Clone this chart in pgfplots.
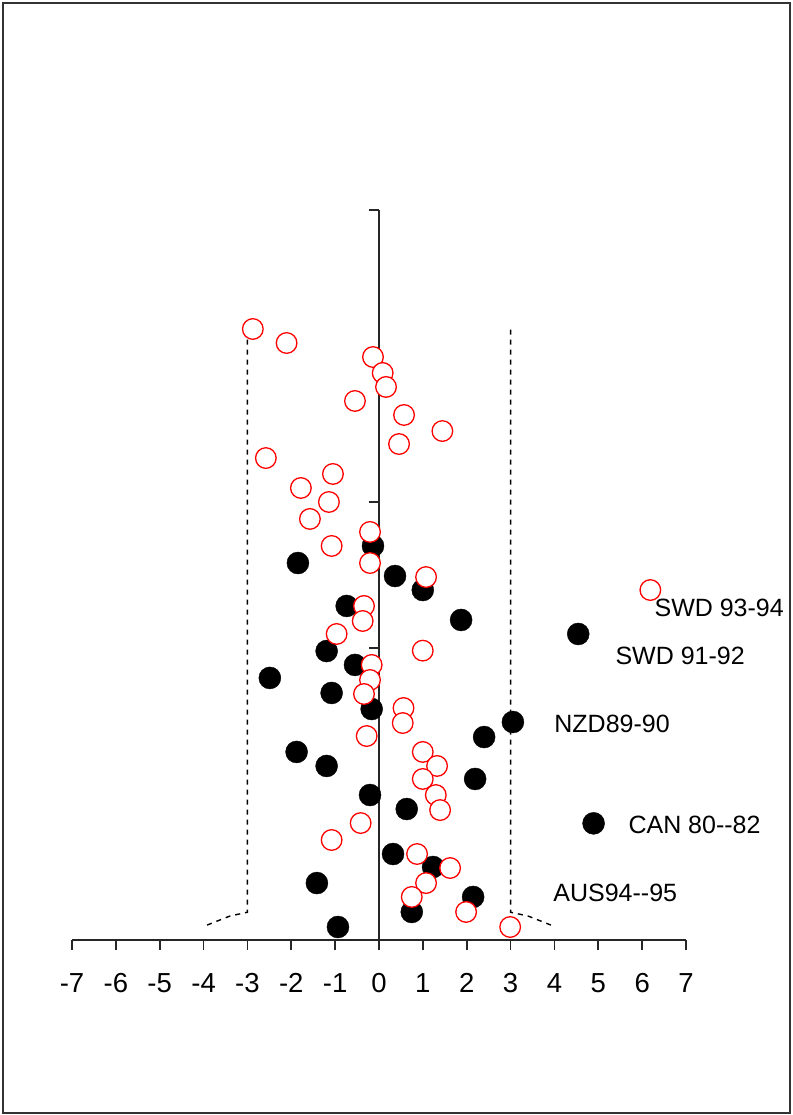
\documentclass[border=0pt]{standalone}
\usepackage{fontspec}
\setmainfont{Liberation Sans}
\usepackage{pgfplots}
\pgfplotsset{compat=1.18}
\begin{document}
\begin{tikzpicture}
\useasboundingbox (-72pt,-175pt) rectangle (720pt,940pt);
\draw[line width=2pt, black!80] (-69pt,-173pt) rectangle (718pt,937pt);
\begin{axis}[
  at={(0pt,0pt)}, anchor=south west,
  scale only axis, width=614pt, height=730pt,
  xmin=-7, xmax=7, ymin=0, ymax=5,
  enlargelimits=false, clip=false,
  axis x line*=bottom, axis y line*=center,
  axis line style={line width=1.6pt, black!85},
  xtick={-7,-6,-5,-4,-3,-2,-1,0,1,2,3,4,5,6,7},
  xticklabels={-7,-6,-5,-4,-3,-2,-1,0,1,2,3,4,5,6,7},
  ytick={1,2,3,4,5}, yticklabels={},
  xtick align=outside, ytick align=outside,
  major tick length=10pt,
  tick style={line width=1.6pt, black!85},
  xticklabel style={font=\fontsize{27.5}{30}\selectfont, yshift=-20pt},
]
% funnel limits
\addplot[black, line width=1.4pt, dash pattern=on 5pt off 5pt] coordinates {(-3,4.18) (-3,0.19) (-3.4,0.164) (-3.67,0.132) (-3.97,0.096)};
\addplot[black, line width=1.4pt, dash pattern=on 5pt off 5pt] coordinates {(3,4.18) (3,0.19) (3.4,0.164) (3.67,0.132) (3.97,0.096)};
% black dots
\addplot[only marks, mark=*, mark size=11pt, black] coordinates {
(-0.137,2.699) (-1.849,2.582) (0.365,2.493) (0.998,2.397) (-0.737,2.288)
(1.872,2.192) (4.543,2.096) (-1.194,1.979) (-0.548,1.884) (-2.489,1.795)
(-1.080,1.692) (-0.167,1.582) (3.053,1.493) (2.397,1.390) (-1.879,1.288)
(-1.194,1.192) (2.192,1.103) (-0.205,0.993) (0.632,0.897) (4.893,0.799)
(0.320,0.589) (1.233,0.500) (-1.416,0.390) (2.146,0.295) (0.747,0.192)
(-0.936,0.089)
};
% red open circles
\addplot[only marks, mark=*, mark size=10.3pt, mark options={draw=red, fill=white, line width=1.3pt}] coordinates {
(-2.877,4.185) (-2.107,4.089) (-0.137,3.993) (0.084,3.884) (0.160,3.788)
(-0.548,3.692) (0.571,3.596) (1.445,3.486) (0.457,3.397) (-2.580,3.301)
(-1.050,3.192) (-1.781,3.096) (-1.142,3.000) (-1.575,2.884) (-0.205,2.795)
(-1.080,2.699) (-0.205,2.582) (1.073,2.486) (6.187,2.397) (-0.342,2.288)
(-0.372,2.185) (-0.966,2.096) (0.998,1.982) (-0.167,1.884) (-0.205,1.781)
(-0.342,1.685) (0.559,1.589) (0.541,1.486) (-0.281,1.397) (0.998,1.288)
(1.324,1.192) (0.998,1.103) (1.295,0.993) (1.393,0.890) (-0.418,0.801)
(-1.080,0.685) (0.868,0.589) (1.621,0.493) (1.073,0.390) (0.747,0.295)
(1.986,0.192) (2.991,0.089)
};
\begin{scope}[every node/.style={anchor=west, inner sep=0pt, font=\fontsize{25}{28}\selectfont}]
\node at (axis cs:6.279,2.274) {SWD 93-94};
\node at (axis cs:5.388,1.945) {SWD 91-92};
\node at (axis cs:3.995,1.479) {NZD89-90};
\node at (axis cs:5.685,0.788) {CAN 80-{}-82};
\node at (axis cs:3.973,0.322) {AUS94-{}-95};
\end{scope}
\end{axis}
\end{tikzpicture}
\end{document}
